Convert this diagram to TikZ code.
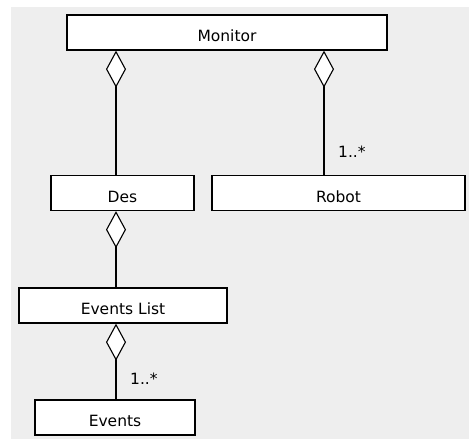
\documentclass[tikz,border=0pt]{standalone}
\usepackage{fontspec}
\setmainfont{DejaVu Sans}
\usetikzlibrary{arrows.meta,positioning,calc}
\definecolor{umlgray}{RGB}{238,238,238}

\begin{document}
\begin{tikzpicture}[x=1pt, y=-1pt,
    cls/.style={draw, fill=white, line width=1.3pt, inner sep=0pt, minimum height=35pt,
      text height=18pt, text depth=0pt, font=\fontsize{15.5}{18}\selectfont},
    agg/.style={line width=1.2pt, {Diamond[fill=white, length=37pt, width=20pt, line width=1.1pt]}-},
    mult/.style={anchor=base west, inner sep=0pt, font=\fontsize{15.5}{18}\selectfont}]
  \useasboundingbox (0,0) rectangle (469,439);
  \fill[white] (0,0) rectangle (469,439);
  \fill[umlgray] (11,7) rectangle (469,439);
  % classes
  \node[cls, minimum width=320pt] (monitor) at (227,32.5) {Monitor};
  \node[cls, minimum width=143pt] (des) at (122.5,193) {Des};
  \node[cls, minimum width=253pt] (robot) at (338.5,193) {Robot};
  \node[cls, minimum width=208pt] (evlist) at (123,305.5) {Events List};
  \node[cls, minimum width=160pt] (events) at (115,417.5) {Events};
  % aggregation lanes
  \coordinate (laneA) at (116,0);
  \coordinate (laneB) at (324,0);
  \draw[agg] (monitor.south -| laneA) -- (des.north -| laneA);
  \draw[agg] (monitor.south -| laneB) -- (robot.north -| laneB);
  \draw[agg] (des.south -| laneA) -- (evlist.north -| laneA);
  \draw[agg] (evlist.south -| laneA) -- (events.north -| laneA);
  % multiplicities
  \node[mult] (multrobot) at (338,157) {1..*};
  \node[mult] (multevents) at (130,384) {1..*};
\end{tikzpicture}
\end{document}
